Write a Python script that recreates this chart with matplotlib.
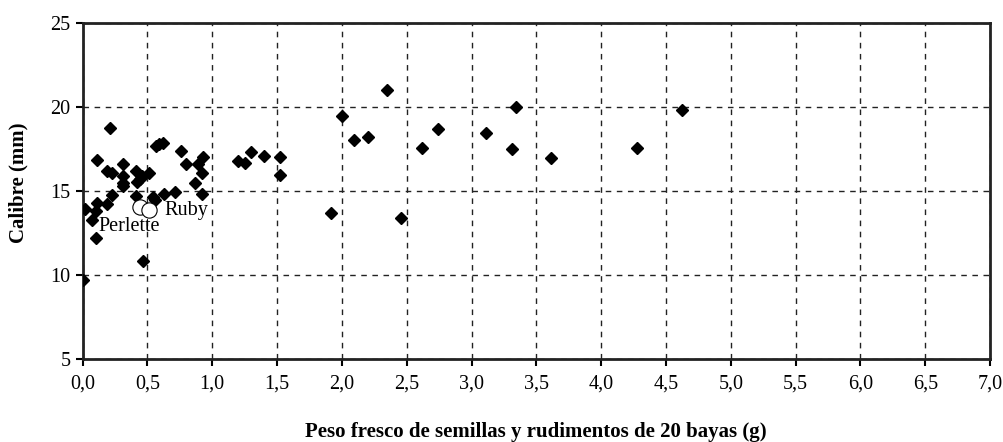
import matplotlib.pyplot as plt

plt.rcParams['font.family'] = ['Liberation Serif', 'DejaVu Serif']

# seed + rudiment fresh weight (g) vs berry calibre (mm)
peso = [0.00, 0.02, 0.07, 0.105, 0.105, 0.11, 0.11, 0.19, 0.21, 0.19,
        0.225, 0.225, 0.31, 0.315, 0.31, 0.315, 0.41, 0.41, 0.42, 0.44,
        0.46, 0.47, 0.51, 0.54, 0.56, 0.57, 0.59, 0.62, 0.63, 0.71,
        0.76, 0.80, 0.89, 0.93, 0.92, 0.87, 0.92, 1.20, 1.25, 1.30,
        1.40, 1.52, 1.52, 1.92, 2.00, 2.09, 2.20, 2.35, 2.46, 2.62,
        2.74, 3.11, 3.31, 3.34, 3.61, 4.28, 4.62]
calibre = [9.7, 13.9, 13.25, 12.2, 13.8, 14.25, 16.8, 14.2, 18.7, 16.15,
           16.05, 14.75, 16.6, 15.85, 15.45, 15.3, 16.2, 14.7, 15.5, 15.7,
           15.85, 10.8, 16.05, 14.6, 14.45, 17.65, 17.8, 17.85, 14.8, 14.95,
           17.35, 16.6, 16.6, 17.0, 16.05, 15.45, 14.8, 16.75, 16.65, 17.3,
           17.05, 17.0, 15.95, 13.65, 19.45, 18.0, 18.2, 21.0, 13.35, 17.55,
           18.65, 18.45, 17.5, 19.95, 16.95, 17.55, 19.8]

# reference cultivars
ref_names = ['Perlette', 'Ruby']
ref_peso = [0.44, 0.51]
ref_calibre = [14.05, 13.85]

xticks = [0.0, 0.5, 1.0, 1.5, 2.0, 2.5, 3.0, 3.5, 4.0, 4.5, 5.0, 5.5, 6.0, 6.5, 7.0]
yticks = [5, 10, 15, 20, 25]

fig = plt.figure(figsize=(10.04, 4.42), dpi=100)
ax = fig.add_axes([0.0822, 0.188, 0.904, 0.761])

ax.plot(peso, calibre, 'D', color='black', markersize=6, zorder=3)
ax.plot(ref_peso, ref_calibre, 'o', markerfacecolor='white',
        markeredgecolor='black', markeredgewidth=0.8, markersize=11, zorder=4)
ax.text(0.635, 13.85, ref_names[1], fontsize=14.5, va='center', ha='left')
ax.text(0.125, 12.85, ref_names[0], fontsize=14.5, va='center', ha='left')

ax.set_xlim(0, 7)
ax.set_ylim(5, 25)
ax.set_xticks(xticks)
ax.set_xticklabels([('%.1f' % v).replace('.', ',') for v in xticks])
ax.set_yticks(yticks)
ax.tick_params(labelsize=14.5, direction='out', length=5, width=1.5, colors='black')
ax.tick_params(axis='x', pad=6)
ax.grid(True, linestyle=(0, (4, 4)), color='#222222', linewidth=1)
ax.set_axisbelow(True)
for s in ax.spines.values():
    s.set_linewidth(2)
    s.set_color('#222222')

fig.text(18 / 1004, 1 - 183 / 442, 'Calibre (mm)', rotation=90,
         fontsize=15, fontweight='bold', ha='center', va='center')
fig.text(536 / 1004, 1 - 432 / 442, 'Peso fresco de semillas y rudimentos de 20 bayas (g)',
         fontsize=15, fontweight='bold', ha='center', va='center')

fig.savefig('out.png', dpi=100)
